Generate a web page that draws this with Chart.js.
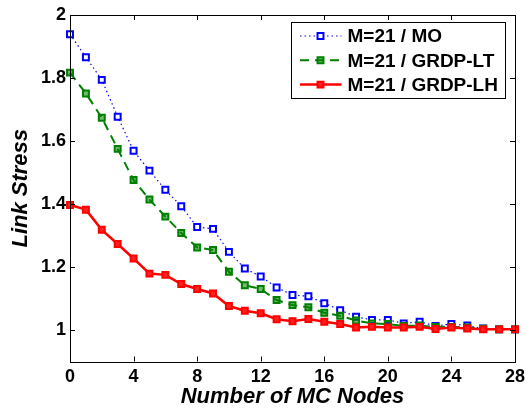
<!DOCTYPE html>
<html>
<head>
<meta charset="utf-8">
<script src="https://cdn.jsdelivr.net/npm/chart.js@4"></script>
<style>
html, body { margin: 0; padding: 0; background: #fff; }
</style>
</head>
<body>
<canvas id="stressChart" width="530" height="410"></canvas>
<script>
var nodes = [0, 1, 2, 3, 4, 5, 6, 7, 8, 9, 10, 11, 12, 13, 14, 15, 16, 17, 18, 19, 20, 21, 22, 23, 24, 25, 26, 27, 28];
var moStress = [1.939, 1.866, 1.794, 1.677, 1.569, 1.506, 1.445, 1.393, 1.327, 1.321, 1.248, 1.195, 1.170, 1.135, 1.111, 1.107, 1.085, 1.063, 1.042, 1.032, 1.032, 1.021, 1.026, 1.013, 1.019, 1.014, 1.005, 1.002, 1.002];
var ltStress = [1.817, 1.751, 1.674, 1.575, 1.476, 1.414, 1.360, 1.308, 1.262, 1.254, 1.185, 1.142, 1.130, 1.095, 1.079, 1.072, 1.055, 1.045, 1.030, 1.021, 1.019, 1.013, 1.014, 1.010, 1.010, 1.008, 1.004, 1.002, 1.002];
var lhStress = [1.397, 1.382, 1.318, 1.273, 1.227, 1.179, 1.175, 1.146, 1.130, 1.116, 1.076, 1.061, 1.053, 1.034, 1.028, 1.035, 1.026, 1.019, 1.008, 1.010, 1.008, 1.008, 1.010, 1.003, 1.008, 1.005, 1.002, 1.002, 1.002];
var seriesNames = ['M=21 / MO', 'M=21 / GRDP-LT', 'M=21 / GRDP-LH'];
var xTicks = [0, 4, 8, 12, 16, 20, 24, 28];
var yTicks = [1, 1.2, 1.4, 1.6, 1.8, 2];

var fontFamily = '"Liberation Sans", Arial, Helvetica, sans-serif';

function toPoints(values) {
    return nodes.map(function (n, i) { return { x: n, y: values[i] }; });
}

// box around the plot, inward ticks on all four sides, boxed legend
var matlabFrame = {
    id: 'matlabFrame',
    afterDatasetsDraw: function (chart) {
        var ctx = chart.ctx;
        var a = chart.chartArea;
        var xs = chart.scales.x, ys = chart.scales.y;
        var tick = 5;
        ctx.save();
        ctx.strokeStyle = '#000';
        ctx.lineWidth = 1;
        ctx.beginPath();
        xTicks.forEach(function (v) {
            var px = Math.round(xs.getPixelForValue(v)) + 0.5;
            ctx.moveTo(px, a.bottom); ctx.lineTo(px, a.bottom - tick);
            ctx.moveTo(px, a.top); ctx.lineTo(px, a.top + tick);
        });
        yTicks.forEach(function (v) {
            var py = Math.round(ys.getPixelForValue(v)) + 0.5;
            ctx.moveTo(a.left, py); ctx.lineTo(a.left + tick, py);
            ctx.moveTo(a.right, py); ctx.lineTo(a.right - tick, py);
        });
        ctx.stroke();
        ctx.strokeRect(Math.round(a.left) + 0.5, Math.round(a.top) + 0.5,
            Math.round(a.right - a.left), Math.round(a.bottom - a.top));

        // legend
        var bx = Math.round(a.right) - 223.5, by = Math.round(a.top) + 7.5, bw = 214, bh = 76;
        ctx.fillStyle = '#fff';
        ctx.fillRect(bx, by, bw, bh);
        ctx.strokeRect(bx, by, bw, bh);
        [0, 1, 2].forEach(function (i, row) {
            var ds = chart.data.datasets[i];
            var cy = by + 13.5 + row * 24.3;
            var x0 = bx + 8.5, x1 = bx + 50, mx = bx + 29;
            ctx.save();
            ctx.strokeStyle = ds.borderColor;
            ctx.lineWidth = ds.borderWidth;
            ctx.setLineDash(ds.borderDash || []);
            ctx.beginPath();
            ctx.moveTo(x0, cy); ctx.lineTo(x1, cy);
            ctx.stroke();
            ctx.setLineDash([]);
            var s = ds.pointRadius * Math.SQRT1_2;
            ctx.fillStyle = ds.pointBackgroundColor;
            ctx.lineWidth = ds.pointBorderWidth;
            ctx.strokeStyle = ds.borderColor;
            ctx.beginPath();
            ctx.rect(mx - s, cy - s, 2 * s, 2 * s);
            ctx.fill();
            ctx.stroke();
            ctx.restore();
            ctx.fillStyle = '#000';
            ctx.font = 'bold 19px ' + fontFamily;
            ctx.textBaseline = 'middle';
            ctx.textAlign = 'left';
            ctx.fillText(seriesNames[i], bx + 56, cy + 1);
        });
        ctx.restore();
    }
};

var ctx = document.getElementById('stressChart').getContext('2d');
var myChart = new Chart(ctx, {
    type: 'line',
    data: {
        datasets: [
            {
                label: seriesNames[0],
                data: toPoints(moStress),
                borderColor: '#0000ff',
                borderWidth: 1.2,
                borderDash: [1.5, 3],
                pointStyle: 'rect',
                pointRadius: 4.2,
                pointBorderWidth: 2,
                pointBackgroundColor: '#ffffff',
                pointBorderColor: '#0000ff',
                clip: false,
                order: 2
            },
            {
                label: seriesNames[1],
                data: toPoints(ltStress),
                borderColor: '#008000',
                borderWidth: 2,
                borderDash: [9, 6],
                pointStyle: 'rect',
                pointRadius: 4.2,
                pointBorderWidth: 2,
                pointBackgroundColor: 'rgba(0, 128, 0, 0.55)',
                pointBorderColor: '#008000',
                clip: false,
                order: 1
            },
            {
                label: seriesNames[2],
                data: toPoints(lhStress),
                borderColor: '#ff0000',
                borderWidth: 2.5,
                pointStyle: 'rect',
                pointRadius: 4.2,
                pointBorderWidth: 2,
                pointBackgroundColor: '#ff2020',
                pointBorderColor: '#ff0000',
                clip: false,
                order: 0
            }
        ]
    },
    options: {
        responsive: false,
        animation: false,
        devicePixelRatio: 1,
        layout: { padding: { top: 15, right: 13, left: 0, bottom: 0 } },
        plugins: {
            legend: { display: false },
            tooltip: { enabled: false }
        },
        scales: {
            x: {
                type: 'linear',
                min: 0,
                max: 28,
                afterBuildTicks: function (s) { s.ticks = xTicks.map(function (v) { return { value: v }; }); },
                afterFit: function (s) { s.height = 48.5; },
                grid: { display: false, drawTicks: false },
                border: { display: false },
                ticks: {
                    color: '#000',
                    padding: 5,
                    maxRotation: 0,
                    font: { family: fontFamily, size: 18, weight: 'bold' },
                    callback: function (v) { return String(v); }
                },
                title: {
                    display: true,
                    text: 'Number of MC Nodes',
                    color: '#000',
                    padding: { top: 0, bottom: 0 },
                    font: { family: fontFamily, size: 22, weight: 'bold', style: 'italic' }
                }
            },
            y: {
                type: 'linear',
                min: 0.9,
                max: 2,
                afterBuildTicks: function (s) { s.ticks = yTicks.map(function (v) { return { value: v }; }); },
                afterFit: function (s) { s.width = 70; },
                grid: { display: false, drawTicks: false },
                border: { display: false },
                ticks: {
                    color: '#000',
                    padding: 4,
                    font: { family: fontFamily, size: 18, weight: 'bold' },
                    callback: function (v) { return String(+v.toFixed(1)); }
                },
                title: {
                    display: true,
                    text: 'Link Stress',
                    color: '#000',
                    padding: { top: 8, bottom: 0 },
                    font: { family: fontFamily, size: 22, weight: 'bold', style: 'italic' }
                }
            }
        }
    },
    plugins: [matlabFrame]
});
</script>
</body>
</html>
